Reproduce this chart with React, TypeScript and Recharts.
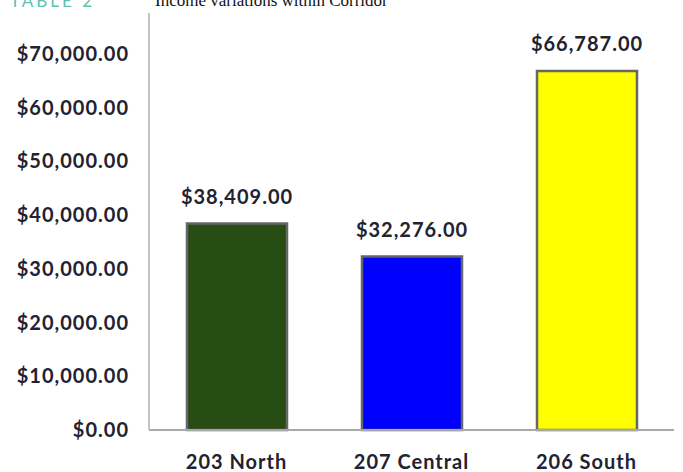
import { Bar, BarChart, Cell, LabelList, XAxis, YAxis } from "recharts";
import type { CSSProperties } from "react";

const corridors = ["203 North", "207 Central", "206 South"];
const incomes = [38409, 32276, 66787];
const barColors = ["#284d14", "#0000ff", "#ffff00"];
const yTicks = [0, 10000, 20000, 30000, 40000, 50000, 60000, 70000];

const data = corridors.map((name, i) => ({ name, income: incomes[i] }));

const FONT = "Lato, 'Open Sans', sans-serif";
const TEXT_COLOR = "#222230";

const labelFont = {
  fill: TEXT_COLOR,
  fontSize: 20,
  fontWeight: 700,
  fontFamily: FONT,
  letterSpacing: 1,
};

const money = (v: number) =>
  "$" +
  v.toLocaleString("en-US", { minimumFractionDigits: 2, maximumFractionDigits: 2 });

const frameStyle: CSSProperties = {
  position: "absolute",
  left: 0,
  top: 0,
  width: 683,
  height: 472,
  overflow: "hidden",
  background: "#fff",
};

// the caption sits above the chart and is clipped, as in the scan
const captionStyle: CSSProperties = {
  position: "absolute",
  left: 0,
  top: 0,
  width: 683,
  height: 13,
  overflow: "hidden",
  background: "#fff",
  zIndex: 2,
};

export default function App() {
  return (
    <div style={frameStyle}>
      <div style={captionStyle}>
        <span
          style={{
            position: "absolute",
            left: 10,
            top: -9,
            fontFamily: FONT,
            fontSize: 17,
            lineHeight: "20px",
            letterSpacing: 3,
            color: "#5fc2b0",
          }}
        >
          TABLE 2
        </span>
        <span
          style={{
            position: "absolute",
            left: 155,
            top: -9,
            fontFamily: "'Liberation Serif', serif",
            fontSize: 17,
            lineHeight: "20px",
            color: "#111",
          }}
        >
          Income variations within Corridor
        </span>
      </div>
      <div style={{ position: "absolute", left: 0, top: 0 }}>
        <BarChart
          width={683}
          height={472}
          data={data}
          margin={{ top: 0, right: 9, bottom: 0, left: 0 }}
        >
          <XAxis
            dataKey="name"
            height={42}
            axisLine={{ stroke: "#a8a8a8", strokeWidth: 2 }}
            tickLine={false}
            tickMargin={19}
            tick={labelFont}
          />
          <YAxis
            width={149}
            domain={[0, 80000]}
            ticks={yTicks}
            tickFormatter={money}
            axisLine={{ stroke: "#c4c4c4", strokeWidth: 2 }}
            tickLine={false}
            tickMargin={14}
            tick={labelFont}
          />
          <Bar
            dataKey="income"
            barSize={100}
            stroke="#666666"
            strokeWidth={2.5}
            isAnimationActive={false}
          >
            {data.map((d, i) => (
              <Cell key={d.name} fill={barColors[i]} />
            ))}
            <LabelList
              dataKey="income"
              position="top"
              offset={20}
              formatter={(v: number) => money(v)}
              style={labelFont}
            />
          </Bar>
        </BarChart>
      </div>
    </div>
  );
}
